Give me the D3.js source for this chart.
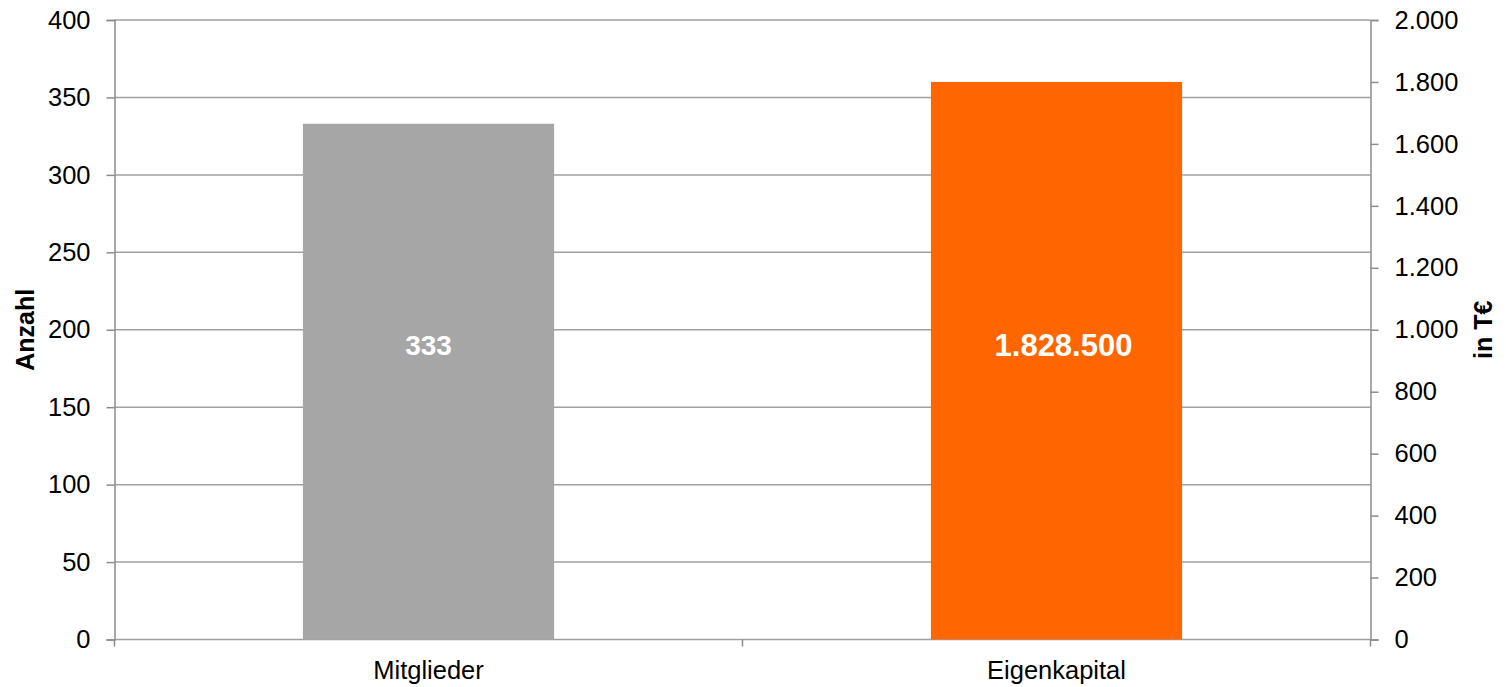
<!DOCTYPE html>
<html><head><meta charset="utf-8">
<script src="https://cdn.jsdelivr.net/npm/d3@7"></script>
<style>body{margin:0;background:#fff}text{font-family:"Liberation Sans",Arial,sans-serif}</style>
</head><body><svg id="c" width="1506" height="687"></svg>
<script>
const categories = ["Mitglieder", "Eigenkapital"];
const barValues = [333, 1800];          // Mitglieder on left axis (Anzahl), Eigenkapital on right axis (T€)
const barAxis = ["left", "right"];
const barLabels = ["333", "1.828.500"];
const barColors = ["#a6a6a6", "#ff6600"];
const leftTicks = [0, 50, 100, 150, 200, 250, 300, 350, 400];
const rightTicks = [0, 200, 400, 600, 800, 1000, 1200, 1400, 1600, 1800, 2000];
const leftTitle = "Anzahl";
const rightTitle = "in T€";

const labelSize = [28, 31];
const labelDx = [0, 7];

const svg = d3.select("#c");
const L = 114.5, R = 1370.5, T = 20, B = 639.5;
const x = d3.scaleBand().domain(categories).range([L, R]).padding(0);
const yL = d3.scaleLinear().domain([0, 400]).range([B, T]);
const yR = d3.scaleLinear().domain([0, 2000]).range([B, T]);
const fmt = v => d3.format(",")(v).replace(/,/g, ".");
const axisCol = "#8c8c8c", gridCol = "#a0a0a0";
const FS = 25.5;

// gridlines
svg.append("g").selectAll("line").data(leftTicks).join("line")
  .attr("x1", L).attr("x2", R).attr("y1", d => yL(d)).attr("y2", d => yL(d))
  .attr("stroke", gridCol).attr("stroke-width", 1.5);

// bars
const bw = x.bandwidth() * 0.4;
svg.append("g").selectAll("rect").data(categories).join("rect")
  .attr("x", d => x(d) + x.bandwidth() / 2 - bw / 2)
  .attr("width", bw)
  .attr("y", (d, i) => (barAxis[i] === "left" ? yL : yR)(barValues[i]))
  .attr("height", (d, i) => B - (barAxis[i] === "left" ? yL : yR)(barValues[i]))
  .attr("fill", (d, i) => barColors[i]);

// bar labels
svg.append("g").selectAll("text").data(categories).join("text")
  .attr("x", (d, i) => x(d) + x.bandwidth() / 2 + labelDx[i])
  .attr("y", yL(190))
  .attr("text-anchor", "middle").attr("dominant-baseline", "central")
  .attr("fill", "#fff").attr("font-weight", "bold").attr("font-size", (d, i) => labelSize[i])
  .text((d, i) => barLabels[i]);

// left axis
const gl = svg.append("g").attr("transform", `translate(${L},0)`)
  .call(d3.axisLeft(yL).tickValues(leftTicks).tickSize(8).tickPadding(16).tickFormat(fmt));
// right axis
const gr = svg.append("g").attr("transform", `translate(${R},0)`)
  .call(d3.axisRight(yR).tickValues(rightTicks).tickSize(8).tickPadding(16).tickFormat(fmt));
// bottom axis
const gb = svg.append("g").attr("transform", `translate(0,${B})`)
  .call(d3.axisBottom(x).tickSize(0).tickPadding(21));
svg.append("g").selectAll("line").data([L, (L + R) / 2, R]).join("line")
  .attr("x1", d => d).attr("x2", d => d).attr("y1", B).attr("y2", B + 7)
  .attr("stroke", axisCol).attr("stroke-width", 1.5);

[gl, gr, gb].forEach(g => {
  g.selectAll(".domain").attr("stroke", axisCol).attr("stroke-width", 1.5);
  g.selectAll(".tick line").attr("stroke", axisCol).attr("stroke-width", 1.5);
  g.selectAll("text").attr("font-size", FS).attr("fill", "#000")
    .attr("font-family", '"Liberation Sans",Arial,sans-serif');
});
gb.select(".domain").remove();
gb.selectAll("text").attr("dy", "0.71em");

// axis titles
svg.append("text").attr("transform", `translate(25,${(T + B) / 2}) rotate(-90)`)
  .attr("text-anchor", "middle").attr("dominant-baseline", "central")
  .attr("font-weight", "bold").attr("font-size", 25).text(leftTitle);
svg.append("text").attr("transform", `translate(1483,${(T + B) / 2}) rotate(-90)`)
  .attr("text-anchor", "middle").attr("dominant-baseline", "central")
  .attr("font-weight", "bold").attr("font-size", 25).text(rightTitle);
</script></body></html>
